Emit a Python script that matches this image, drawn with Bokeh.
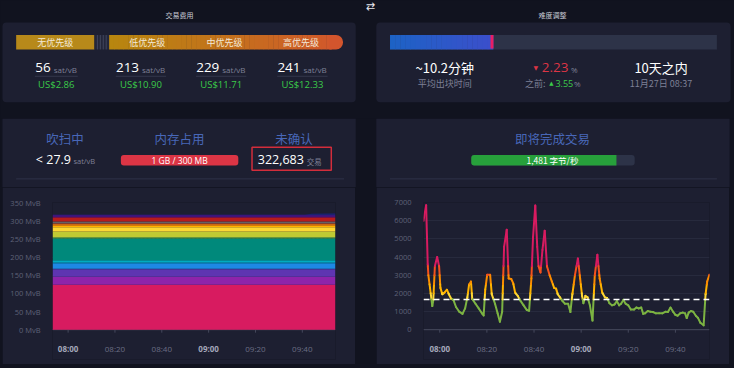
import pandas as pd
from bokeh.plotting import figure
from bokeh.layouts import column, row
from bokeh.models import (Range1d, FixedTicker, PrintfTickFormatter, Span,
                          Spacer, ColumnDataSource)
from bokeh.core.properties import value
from bokeh.embed import file_html
from bokeh.resources import INLINE

# ---------------- data ----------------
fee_levels = ["无优先级", "低优先级", "中优先级", "高优先级"]
fee_rates = [56, 213, 229, 241]
fee_usd = [2.86, 10.90, 11.71, 12.33]

avg_block_minutes = 10.2
diff_change_pct = -2.23
prev_change_pct = 3.55
retarget_days = 10
retarget_when = "11月27日 08:37"
epoch_progress = 0.315

purging_feerate = 27.9
memory_text = "1 GB / 300 MB"
unconfirmed_tx = 322683
incoming_vbytes = 1481
target_vbytes = 1667

date = "2023-11-27"
tick_labels = ["08:00", "08:20", "08:40", "09:00", "09:20", "09:40"]
bold_ticks = ["08:00", "09:00"]
mem_ticks = [0, 50, 100, 150, 200, 250, 300, 350]
rate_ticks = [0, 1000, 2000, 3000, 4000, 5000, 6000, 7000]

pool_times = ["07:53:20", "09:41:00", "09:44:00", "09:54:10"]
layer_colors = ["#D81B60", "#8E24AA", "#5E35B1", "#3949AB", "#1E88E5", "#039BE5",
                "#00ACC1", "#00897B", "#43A047", "#7CB342", "#C0CA33", "#FDD835",
                "#FFB300", "#FB8C00", "#F4511E", "#6D4C41", "#757575", "#546E7A",
                "#B71C1C", "#880E4F", "#4A148C", "#311B92", "#1A237E"]
layer_mvb = [
    [124, 124, 124, 124], [22, 22, 22, 22], [20, 20, 20, 20], [2, 2, 2, 2],
    [14, 14, 14, 14], [3, 3, 3, 3], [6, 6, 6, 6], [60, 60, 60, 60],
    [2, 2, 2, 2], [2, 2, 2, 2], [15, 15, 15, 15], [12, 12, 12, 12],
    [4, 4, 4, 4], [4, 4, 4, 4], [2, 2, 2, 2], [2, 2, 2, 2],
    [3, 3, 3, 3], [1, 1, 1, 1], [10, 10, 10, 10], [3, 3, 3, 3],
    [4, 4, 4, 4], [1, 1, 1, 1], [0, 0, 3, 4],
]

rate_times = [
    "07:53:06", "07:54:13", "07:54:54", "07:55:10", "07:55:52", "07:56:50", "07:57:14", "07:57:56", "07:58:54", "07:59:43",
    "08:00:17", "08:01:06", "08:02:04", "08:03:02", "08:03:52", "08:04:50", "08:05:47", "08:06:54", "08:08:16", "08:09:39",
    "08:10:45", "08:11:43", "08:12:25", "08:13:14", "08:13:47", "08:15:10", "08:16:33", "08:17:56", "08:18:37", "08:19:18",
    "08:20:08", "08:21:22", "08:22:04", "08:23:27", "08:24:33", "08:25:31", "08:26:29", "08:27:18", "08:28:25", "08:29:14",
    "08:30:20", "08:31:10", "08:31:59", "08:33:06", "08:34:12", "08:35:35", "08:36:58", "08:37:55", "08:38:53", "08:39:35",
    "08:40:32", "08:41:22", "08:41:55", "08:42:45", "08:43:35", "08:44:32", "08:45:31", "08:46:37", "08:47:35", "08:48:32",
    "08:49:22", "08:50:04", "08:51:01", "08:52:08", "08:53:05", "08:54:28", "08:55:26", "08:56:16", "08:57:22", "08:58:37",
    "08:59:34", "09:00:24", "09:00:57", "09:01:47", "09:02:44", "09:03:43", "09:04:49", "09:05:47", "09:06:53", "09:07:51",
    "09:08:57", "09:10:04", "09:11:01", "09:11:59", "09:13:05", "09:14:11", "09:15:10", "09:16:07", "09:16:57", "09:17:55",
    "09:18:53", "09:19:59", "09:21:05", "09:22:28", "09:23:26", "09:24:23", "09:25:30", "09:26:20", "09:27:09", "09:28:16",
    "09:29:22", "09:30:28", "09:31:42", "09:33:05", "09:34:28", "09:35:50", "09:36:49", "09:37:55", "09:39:01", "09:39:59",
    "09:40:56", "09:42:03", "09:43:09", "09:44:07", "09:44:48", "09:45:38", "09:46:36", "09:47:34", "09:48:40", "09:49:38",
    "09:50:36", "09:51:58", "09:52:48", "09:53:29", "09:54:28",
]
rate_values = [
    5990, 6850, 3600, 3000, 2300, 1300, 1600, 3500, 4000, 3500,
    2300, 1950, 2050, 2200, 1950, 1700, 1640, 1250, 990, 870,
    1170, 1780, 2470, 2650, 1690, 1430, 1170, 900, 780, 2210,
    3030, 3030, 1950, 1430, 900, 440, 990, 4560, 5500, 2820,
    2790, 2560, 2040, 1860, 1600, 1340, 1080, 1040, 2820, 5090,
    6830, 4560, 3500, 3150, 4390, 5450, 3480, 3000, 2650, 2300,
    2260, 1950, 1780, 1570, 1430, 1430, 970, 1950, 3000, 3920,
    2820, 1860, 1460, 1860, 1780, 1340, 500, 3000, 4120, 2820,
    2040, 1780, 1740, 1460, 1340, 1390, 1570, 1340, 1430, 1640,
    1430, 1340, 1110, 1110, 1220, 1170, 1220, 870, 900, 1030,
    990, 975, 900, 900, 900, 990, 975, 1220, 990, 820,
    770, 900, 940, 900, 640, 940, 1030, 990, 770, 640,
    380, 240, 1950, 2650, 3030,
]
rate_bands = [1667, 2000, 2500, 3000, 3500]
band_colors = ["#7CB342", "#FDD835", "#FFB300", "#FB8C00", "#F4511E", "#D81B60"]

# ---------------- style ----------------
BG = "#11131f"
CARD = "#1d1f31"
TRACK = "#2d3348"
GREY = "#7d8096"
BLUE_T = "#4867b8"
GREEN = "#3bcc49"
RED = "#dc3545"
CJK = "Noto Sans CJK SC"
LAT = "Open Sans"
W = 734


def ms(t):
    return pd.Timestamp(f"{date} {t}").value / 1e6


def T(p, x, y, s, size, color, font=CJK, align="center", base="middle", style="normal"):
    p.text(x=[x], y=[y], text=[s], text_font=value(font), text_font_size=f"{size}px",
           text_color=color, text_align=align, text_baseline=base, text_font_style=style)


def lerp(c0, c1, f):
    a = [int(c0[i:i + 2], 16) for i in (1, 3, 5)]
    b = [int(c1[i:i + 2], 16) for i in (1, 3, 5)]
    return "#%02x%02x%02x" % tuple(round(a[k] + (b[k] - a[k]) * f) for k in range(3))


def card_fig(h, y0, y1):
    p = figure(width=W, height=h, x_range=Range1d(0, 750), y_range=Range1d(y1, y0),
               x_axis_type=None, y_axis_type=None, output_backend="svg",
               toolbar_location=None, min_border=0, background_fill_color=BG,
               border_fill_color=BG, outline_line_color=None)
    return p


# ---------------- top cards ----------------
pA = card_fig(118, 0, 123)
pA.quad(left=[2, 384], right=[363, 746], top=[23, 23], bottom=[106, 106],
        fill_color=CARD, line_color=None, border_radius=4)
T(pA, 183, 15, "交易费用", 7, "#c9cbd6")
T(pA, 564, 15, "难度调整", 7, "#c9cbd6")
T(pA, 378, 6, "⇄", 11, "#e6e6ee", font="DejaVu Sans")

# fee bar
pA.quad(left=16, right=96, top=36, bottom=51, fill_color="#b7891a", line_color=None)
pA.quad(left=96, right=111, top=36, bottom=51, fill_color="#23263a", line_color=None)
pA.segment(x0=[99, 102, 105, 108], y0=36, x1=[99, 102, 105, 108], y1=51,
           line_color="#41465e", line_width=1)
g0, gm, g1 = "#b8860f", "#c4711c", "#d3552d"
N = 46
for k in range(N):
    xa = 111 + (338 - 111) * k / N
    xb = 111 + (338 - 111) * (k + 1) / N + 0.4
    f = (xa - 111) / (350 - 111)
    c = lerp(g0, gm, f * 2) if f < 0.5 else lerp(gm, g1, (f - 0.5) * 2)
    pA.quad(left=xa, right=xb, top=36, bottom=51, fill_color=c, line_color=None)
pA.quad(left=336, right=350, top=36, bottom=51, fill_color=g1, line_color=None,
        border_radius=(0, 7, 7, 0))
for lab, cx in zip(fee_levels, [56, 150, 229, 307]):
    T(pA, cx, 43.5, lab, 9, "#f3ead8")

for rate, usd, cx in zip(fee_rates, fee_usd, [57, 143.5, 225.5, 308.5]):
    nw = 7.6 * len(str(rate))
    gw = nw + 3 + 23.6
    xr = cx - gw / 2 + nw
    T(pA, xr, 70, str(rate), 13.5, "#ffffff", font=LAT, align="right")
    T(pA, xr + 3, 72, "sat/vB", 8, GREY, font=LAT, align="left")
    pA.segment(x0=cx - gw / 2 - 1, y0=79, x1=cx + gw / 2 + 1, y1=79, line_color="#34374c", line_width=1)
    T(pA, cx, 87.5, f"US${usd:.2f}", 9.5, GREEN, font=LAT)

# difficulty
pA.quad(left=398, right=732, top=36, bottom=51, fill_color=TRACK, line_color=None)
bx1 = 398 + (732 - 398) * epoch_progress
M = 20
for k in range(M):
    xa = 398 + (bx1 - 398) * k / M
    xb = 398 + (bx1 - 398) * (k + 1) / M + 0.4
    pA.quad(left=xa, right=xb, top=36, bottom=51, fill_color=lerp("#1d62c5", "#3b4fcb", k / (M - 1)),
            line_color=None)
pA.quad(left=bx1 - 2.5, right=bx1 + 0.5, top=36, bottom=50, fill_color="#e91e63", line_color=None)

T(pA, 454, 70, f"~{avg_block_minutes}分钟", 13, "#ffffff")
T(pA, 454, 86.5, "平均出块时间", 9, GREY)
T(pA, 547, 69.5, "▼" if diff_change_pct < 0 else "▲", 6, RED, font="DejaVu Sans")
T(pA, 553, 70, f"{abs(diff_change_pct):.2f}", 13.5, RED, font=LAT, align="left")
T(pA, 583, 72, "%", 8, GREY, font=LAT, align="left")
T(pA, 557, 86.5, "之前:", 9, GREY, align="right")
T(pA, 563, 86, "▲", 5.5, GREEN, font="DejaVu Sans")
T(pA, 567, 86.5, f"{prev_change_pct:.2f}", 9, GREEN, font=LAT, align="left")
T(pA, 586, 86.5, "%", 8, GREY, font=LAT, align="left")
T(pA, 675, 70, f"{retarget_days}天之内", 13, "#ffffff")
T(pA, 675, 86.5, retarget_when, 9, GREY)

# ---------------- bottom card headers ----------------
pB = card_fig(69, 123, 195)
pB.quad(left=[2, 384], right=[363, 745], top=[123, 123], bottom=[195, 195],
        fill_color=CARD, line_color=None)
for s, cx in zip(["吹扫中", "内存占用", "未确认", "即将完成交易"], [66, 183, 300, 564]):
    T(pB, cx, 144, s, 12.5, BLUE_T)
T(pB, 72, 166, f"< {purging_feerate}", 12.5, "#ffffff", font=LAT, align="right")
T(pB, 74.5, 167.5, "sat/vB", 7.5, GREY, font=LAT, align="left")
pB.quad(left=123, right=243, top=161, bottom=172, fill_color=RED, line_color=None, border_radius=3)
T(pB, 183, 166.5, memory_text, 8.5, "#ffffff", font=LAT)
T(pB, 310, 166, f"{unconfirmed_tx:,}", 12.5, "#ffffff", font=LAT, align="right")
T(pB, 313, 167.5, "交易", 7.5, GREY, align="left")
pB.quad(left=257, right=338, top=153, bottom=177, fill_color=None, line_color="#d32d3b", line_width=1.5)
pB.quad(left=481, right=648, top=161, bottom=172, fill_color=TRACK, line_color=None, border_radius=3)
pB.quad(left=481, right=481 + (648 - 481) * min(incoming_vbytes / target_vbytes, 1), top=161, bottom=172,
        fill_color="#27a03b", line_color=None, border_radius=(3, 0, 0, 3))
T(pB, 564, 166.5, f"{incoming_vbytes:,} 字节/秒", 8.5, "#ffffff")
pB.segment(x0=[16, 398], y0=[186, 186], x1=[351, 732], y1=[186, 186], line_color="#2f3248", line_width=1)


# ---------------- charts ----------------
tick_ms = [ms(t) for t in tick_labels]
FRAME_PX = 128   # plotting height of the value area
EXT_PX = 30      # room below zero for the time axis


def chart_fig(l, r, t, x0, x1, y1, yticks, axis_level):
    upp = y1 / FRAME_PX
    p = figure(width=353, height=177, x_axis_location=None, x_range=Range1d(x0, x1),
               y_range=Range1d(-EXT_PX * upp, y1), output_backend="svg", toolbar_location=None,
               min_border_left=l, min_border_right=r, min_border_top=t,
               min_border_bottom=177 - t - FRAME_PX - EXT_PX,
               background_fill_color=CARD, border_fill_color=CARD, outline_line_color=None)
    p.xgrid.visible = False
    p.yaxis.ticker = FixedTicker(ticks=yticks)
    p.yaxis.axis_line_color = None
    p.yaxis.major_tick_line_color = None
    p.yaxis.minor_tick_line_color = None
    p.yaxis.major_label_text_color = "#5f6278"
    p.yaxis.major_label_text_font = "Open Sans"
    p.yaxis.major_label_text_font_size = "7.5px"
    p.yaxis.major_label_standoff = 6
    # time axis: baseline, ticks and labels (08:00 / 09:00 in bold)
    p.add_layout(Span(location=0, dimension="width", line_color="#45485c", line_width=1,
                      level=axis_level))
    p.segment(x0=tick_ms, y0=0, x1=tick_ms, y1=-3 * upp, line_color="#45485c", line_width=1)
    styles = ["bold" if lab in bold_ticks else "normal" for lab in tick_labels]
    colors = ["#a4a7ba" if lab in bold_ticks else "#6b6e84" for lab in tick_labels]
    p.text(x=tick_ms, y=[-13 * upp] * len(tick_ms), text=tick_labels,
           text_font=value("Open Sans"), text_font_size="8px", text_font_style=styles,
           text_color=colors, text_align="center", text_baseline="top")
    return p


pool_ms = [ms(t) for t in pool_times]
src = {"t": pool_ms}
names = []
for i, vals in enumerate(layer_mvb):
    src[f"L{i}"] = vals
    names.append(f"L{i}")
pL = chart_fig(50, 20, 15, pool_ms[0], pool_ms[-1], 350, mem_ticks, "underlay")
pL.yaxis.formatter = PrintfTickFormatter(format="%d MvB")
pL.ygrid.grid_line_color = "#2c2f44"
pL.ygrid.grid_line_dash = "2 2"
pL.varea_stack(stackers=names, x="t", color=layer_colors, source=ColumnDataSource(src))

rate_ms = [ms(t) for t in rate_times]
pR = chart_fig(47, 20, 14, rate_ms[0], rate_ms[-1], 7000, rate_ticks, "underlay")
pR.ygrid.grid_line_color = "#272a3d"


def band_color(v):
    for b, c in zip(rate_bands, band_colors):
        if v <= b:
            return c
    return band_colors[-1]


xs, ys, cs = [], [], []
for i in range(len(rate_values) - 1):
    t0, t1 = rate_ms[i], rate_ms[i + 1]
    v0, v1 = rate_values[i], rate_values[i + 1]
    cuts = [0.0]
    if v1 != v0:
        cuts += sorted((b - v0) / (v1 - v0) for b in rate_bands if min(v0, v1) < b < max(v0, v1))
    cuts.append(1.0)
    for a, b in zip(cuts[:-1], cuts[1:]):
        xa, xb = t0 + (t1 - t0) * a, t0 + (t1 - t0) * b
        va, vb = v0 + (v1 - v0) * a, v0 + (v1 - v0) * b
        xs.append([xa, xb])
        ys.append([va, vb])
        cs.append(band_color((va + vb) / 2))
pR.multi_line(xs=xs, ys=ys, line_color=cs, line_width=2, line_cap="round", line_join="round")
pR.add_layout(Span(location=target_vbytes, dimension="width", line_color="#ffffff",
                   line_width=1.5, line_dash="6 4"))


def sp(w, h):
    return Spacer(width=w, height=h, styles={"background-color": BG})


rowC = row(sp(2, 177), pL, sp(21, 177), pR, sp(5, 177))
root = column(pA, pB, rowC, sp(W, 4), styles={"background-color": BG})

open("out.html", "w").write(file_html(root, INLINE))
